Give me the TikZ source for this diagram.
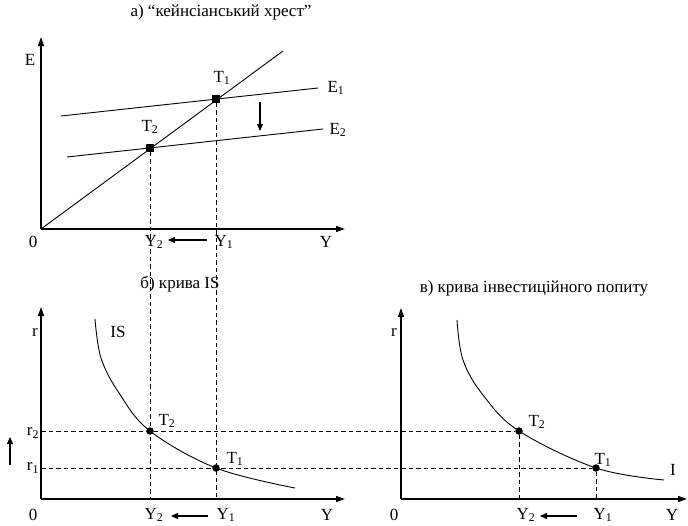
\documentclass[tikz,border=0pt]{standalone}
\usepackage{fontspec}
\setmainfont{Liberation Serif}
\usetikzlibrary{arrows.meta,positioning}

\begin{document}
\begin{tikzpicture}[x=1pt, y=-1pt,
    font=\fontsize{17}{19}\selectfont,
    >={Triangle[length=9pt,width=6pt]},
    axis/.style={->, draw, black, line width=1.4pt},
    curve/.style={draw, black, line width=0.9pt},
    guide/.style={draw, black, line width=0.9pt, dash pattern=on 4.5pt off 3pt},
    shiftarr/.style={-{Triangle[length=7pt,width=6pt]}, draw, black, line width=1.3pt},
    sqdot/.style={fill, black, rectangle, minimum size=7.5pt, inner sep=0pt},
    rdot/.style={fill, black, circle, minimum size=7.5pt, inner sep=0pt},
    lbl/.style={inner sep=1pt}]

\useasboundingbox (0,0) rectangle (688,525);

\node (ttla) at (221,12) {а) “кейнсіанський хрест”};
\node (ttlb) at (180,284) {б) крива IS};
\node (ttlc) at (534,288) {в) крива інвестиційного попиту};

\coordinate (oa) at (41,229);
\coordinate (ea) at (41,37);
\coordinate (ya) at (345,229);
\coordinate (ob) at (41,499);
\coordinate (rb) at (41,307);
\coordinate (yb) at (345,499);
\coordinate (oc) at (401,499);
\coordinate (rc) at (401,308);
\coordinate (yc) at (687,499);

\draw [axis] (oa) -- (ea);
\draw [axis] (oa) -- (ya);
\draw [axis] (ob) -- (rb);
\draw [axis] (ob) -- (yb);
\draw [axis] (oc) -- (rc);
\draw [axis] (oc) -- (yc);

\coordinate (diag) at (283,51);
\coordinate (e1s) at (61,116);
\coordinate (e1e) at (318,88);
\coordinate (e2s) at (67,157);
\coordinate (e2e) at (323,129);
\draw [curve] (oa) -- (diag);
\draw [curve] (e1s) -- (e1e);
\draw [curve] (e2s) -- (e2e);

\draw [curve] plot [smooth, tension=0.6] coordinates {(95,319) (101,358) (119,393) (150,431) (216,468) (295,488)};
\draw [curve] plot [smooth, tension=0.6] coordinates {(457,320) (463,360) (483,395) (519,431) (596,468) (664,480)};

\coordinate (y1a) at (216,499);
\coordinate (y2a) at (150,499);
\coordinate (y1c) at (596,499);
\coordinate (y2c) at (519,499);
\coordinate (r2) at (41,431);
\coordinate (r1) at (41,468);

\node [sqdot] (t1a) at (216,99) {};
\node [sqdot] (t2a) at (150,148) {};
\node [rdot] (t2b) at (150,431) {};
\node [rdot] (t1b) at (216,468) {};
\node [rdot] (t2c) at (519,431) {};
\node [rdot] (t1c) at (596,468) {};

\draw [guide] (t1a) -- (y1a);
\draw [guide] (t2a) -- (y2a);
\draw [guide] (r2) -- (t2c);
\draw [guide] (r1) -- (t1c);
\draw [guide] (t2c) -- (y2c);
\draw [guide] (t1c) -- (y1c);

\node [lbl] (la) at (30,60) {E};
\node [lbl] (l0a) at (33,242) {0};
\node [lbl] (lya) at (326,242) {Y};
\node [lbl] (ly2a) at (154,242) {Y\textsubscript{2}};
\node [lbl] (ly1a) at (224,242) {Y\textsubscript{1}};
\node [lbl] (le1) at (336,88) {E\textsubscript{1}};
\node [lbl] (le2) at (338,130) {E\textsubscript{2}};
\node [lbl] (lt1a) at (222,78) {T\textsubscript{1}};
\node [lbl] (lt2a) at (150,127) {T\textsubscript{2}};

\node [lbl] (lrb) at (35,332) {r};
\node [lbl] (lis) at (118,332) {IS};
\node [lbl] (lr2) at (33,433) {r\textsubscript{2}};
\node [lbl] (lr1) at (33,468) {r\textsubscript{1}};
\node [lbl] (l0b) at (33,515) {0};
\node [lbl] (lyb) at (327,515) {Y};
\node [lbl] (ly2b) at (154,515) {Y\textsubscript{2}};
\node [lbl] (ly1b) at (226,515) {Y\textsubscript{1}};
\node [lbl] (lt2b) at (167,421) {T\textsubscript{2}};
\node [lbl] (lt1b) at (235,459) {T\textsubscript{1}};

\node [lbl] (lrc) at (394,332) {r};
\node [lbl] (l0c) at (394,515) {0};
\node [lbl] (lyc) at (672,515) {Y};
\node [lbl] (ly2c) at (526,515) {Y\textsubscript{2}};
\node [lbl] (ly1c) at (603,515) {Y\textsubscript{1}};
\node [lbl] (lt2c) at (537,422) {T\textsubscript{2}};
\node [lbl] (lt1c) at (603,460) {T\textsubscript{1}};
\node [lbl] (lic) at (673,470) {I};

\coordinate (dna) at (260,102);
\coordinate (dnb) at (260,131);
\coordinate (lfa) at (207,240);
\coordinate (lfb) at (168,240);
\coordinate (lfc) at (208,516);
\coordinate (lfd) at (171,516);
\coordinate (lfe) at (577,516);
\coordinate (lff) at (540,516);
\coordinate (upa) at (10,465);
\coordinate (upb) at (10,437);
\draw [shiftarr] (dna) -- (dnb);
\draw [shiftarr] (lfa) -- (lfb);
\draw [shiftarr] (lfc) -- (lfd);
\draw [shiftarr] (lfe) -- (lff);
\draw [shiftarr] (upa) -- (upb);

\end{tikzpicture}
\end{document}
